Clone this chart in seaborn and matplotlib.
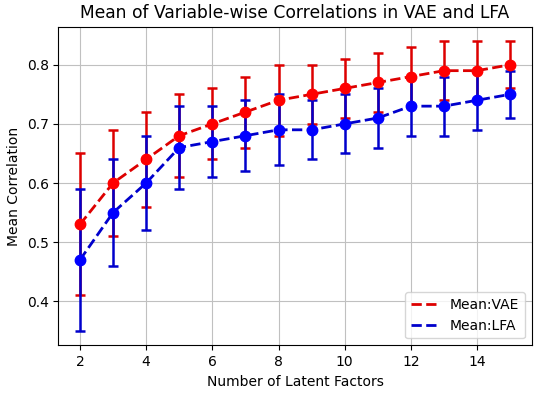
import numpy as np
import pandas as pd
import seaborn as sns

import matplotlib
matplotlib.use("Agg")  # headless mode (no GUI)

import matplotlib.pyplot as plt

# values
latent_factors = [2, 3, 4, 5, 6, 7, 8, 9, 10, 11, 12, 13, 14, 15]
vae_mean = [0.53, 0.60, 0.64, 0.68, 0.70, 0.72, 0.74, 0.75, 0.76, 0.77, 0.78, 0.79, 0.79, 0.80]
vae_err = [0.12, 0.09, 0.08, 0.07, 0.06, 0.06, 0.06, 0.05, 0.05, 0.05, 0.05, 0.05, 0.05, 0.04]
lfa_mean = [0.47, 0.55, 0.60, 0.66, 0.67, 0.68, 0.69, 0.69, 0.70, 0.71, 0.73, 0.73, 0.74, 0.75]
lfa_err = [0.12, 0.09, 0.08, 0.07, 0.06, 0.06, 0.06, 0.05, 0.05, 0.05, 0.05, 0.05, 0.05, 0.04]

df = pd.DataFrame({
    "k": latent_factors,
    "vae": vae_mean,
    "vae_err": vae_err,
    "lfa": lfa_mean,
    "lfa_err": lfa_err,
})

fig, ax = plt.subplots(figsize=(5.36, 3.97), dpi=100)
fig.subplots_adjust(left=0.109, right=0.992, top=0.933, bottom=0.13)

# dashed mean lines (these go into the legend)
sns.lineplot(data=df, x="k", y="vae", color="#dd0000", linestyle="--", linewidth=2,
             label="Mean:VAE", ax=ax)
sns.lineplot(data=df, x="k", y="lfa", color="#0000cc", linestyle="--", linewidth=2,
             label="Mean:LFA", ax=ax)

# markers + error bars
ax.errorbar(df["k"], df["vae"], yerr=df["vae_err"], fmt="o", color="red",
            ecolor="#dd0000", markersize=7.5, elinewidth=1.8, capsize=3.5, capthick=1.8)
ax.errorbar(df["k"], df["lfa"], yerr=df["lfa_err"], fmt="o", color="blue",
            ecolor="#0000cc", markersize=7.5, elinewidth=1.8, capsize=3.5, capthick=1.8)

ax.set_title("Mean of Variable-wise Correlations in VAE and LFA", fontsize=12.3)
ax.set_xlabel("Number of Latent Factors", fontsize=10)
ax.set_ylabel("Mean Correlation", fontsize=10)
ax.tick_params(labelsize=10)
ax.grid(True, color="#c0c0c0")
ax.legend(loc="lower right", fontsize=10)

plt.savefig("out.png", dpi=100)
